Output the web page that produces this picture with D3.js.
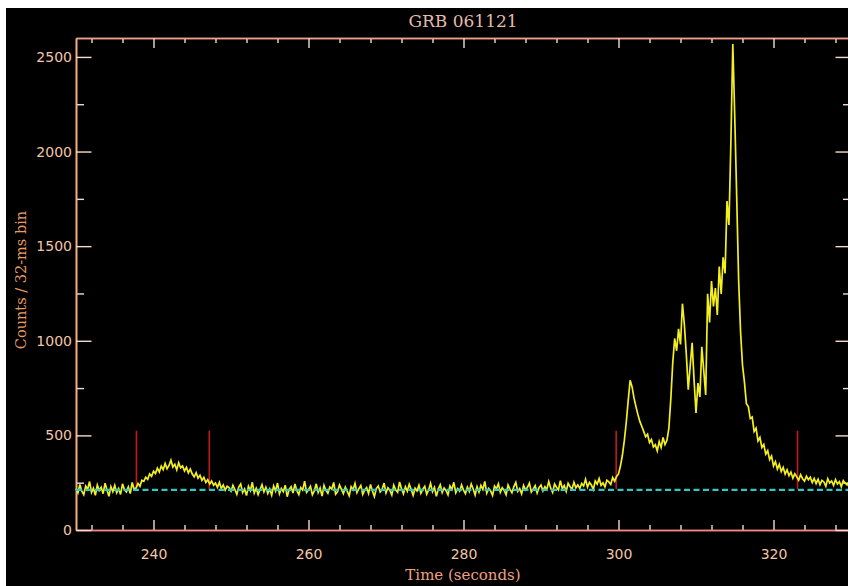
<!DOCTYPE html>
<html>
<head>
<meta charset="utf-8">
<script src="https://cdn.jsdelivr.net/npm/d3@7"></script>
<style>
  body { margin: 0; background: #ffffff; }
  svg { display: block; }
</style>
</head>
<body>
<svg id="chart" width="848" height="586"></svg>
<script>
// light curve, 0.25 s steps from 230 s (counts)
const binStart = 230, binWidth = 0.25;
const counts = [
  218, 196, 241, 205, 187, 232, 214, 256, 199, 221, 183, 238, 209, 226, 192, 247, 211, 178, 229, 203,
  236, 197, 219, 188, 244, 212, 201, 228, 193, 251, 215, 222, 246, 231, 263, 257, 279, 268, 296, 284,
  311, 298, 327, 306, 338, 319, 352, 324, 341, 369, 333, 347, 318, 356, 329, 338, 312, 331, 302, 322,
  296, 281, 303, 274, 289, 262, 278, 251, 266, 243, 259, 237, 248, 226, 252, 219, 238, 211, 231, 224,
  205, 236, 214, 189, 227, 243, 198, 217, 182, 231, 208, 252, 196, 221, 187, 214, 239, 201, 226, 193,
  217, 184, 233, 206, 248, 191, 219, 202, 237, 176, 214, 229, 195, 243, 208, 187, 224, 211, 258, 199,
  213, 231, 186, 207, 244, 198, 222, 179, 236, 209, 194, 227, 216, 251, 189, 203, 238, 215, 192, 226,
  204, 181, 229, 213, 246, 197, 218, 235, 188, 210, 224, 193, 241, 206, 177, 219, 232, 201, 215, 248,
  196, 223, 209, 185, 237, 212, 199, 254, 218, 191, 228, 205, 242, 214, 183, 221, 207, 236, 194, 216,
  231, 189, 212, 247, 203, 225, 178, 216, 239, 198, 222, 208, 186, 233, 214, 252, 197, 219, 205, 238,
  211, 192, 226, 204, 243, 217, 185, 229, 201, 236, 214, 257, 195, 220, 207, 183, 232, 218, 244, 199,
  223, 209, 186, 238, 215, 197, 229, 251, 204, 219, 191, 235, 212, 226, 248, 201, 217, 234, 196, 224,
  238, 207, 229, 214, 256, 221, 199, 243, 226, 212, 261, 218, 235, 204, 247, 229, 216, 252, 223, 238,
  219, 246, 233, 268, 227, 251, 238, 214, 259, 243, 272, 236, 249, 228, 263, 254, 241, 277, 258, 283,
  296, 338, 395, 472, 568, 684, 791, 756, 698, 652, 611, 574, 548, 521, 493, 506, 462, 478, 439, 451,
  418, 467, 436, 489, 452, 474, 538, 692, 884, 1012, 947, 1063, 981, 1196, 1084, 928, 742, 866, 989, 792,
  618, 776, 703, 968, 842, 714, 1248, 1097, 1315, 1182, 1278, 1136, 1392, 1247, 1441, 1356, 1738, 1612, 2047, 2568,
  2183, 1764, 1322, 1047, 872, 781, 668, 652, 589, 597, 521, 538, 471, 489, 436, 452, 401, 419, 372, 391,
  338, 361, 322, 347, 309, 331, 296, 318, 287, 306, 274, 297, 281, 263, 292, 271, 258, 284, 266, 279,
  251, 273, 246, 268, 239, 262, 254, 231, 271, 248, 259, 236, 266, 243, 255, 229, 261, 247, 238, 256,
  244
];
const background = 212;
const markerTimes = [237.8, 247.2, 299.7, 323.1];
const markerRange = [215, 525];
const xMajor = [240, 260, 280, 300, 320];
const xMinor = [232, 236, 244, 248, 252, 256, 264, 268, 272, 276, 284, 288, 292, 296, 304, 308, 312, 316, 324, 328];
const yMajor = [0, 500, 1000, 1500, 2000, 2500];
const yMinor = [250, 750, 1250, 1750, 2250];

const svg = d3.select("#chart");
svg.append("rect")
    .attr("x", 6).attr("y", 8)
    .attr("width", 842).attr("height", 578)
    .attr("fill", "#000");

const x = d3.scaleLinear().domain([230, 330]).range([76, 851]);
const y = d3.scaleLinear().domain([0, 2600]).range([530, 38]);

const axisColor = "#f0a088",
      tickColor = "#f6dccc",
      labelColor = "#f2c6a6";

function styleAxis(g, lineColor) {
    g.select(".domain").attr("stroke", lineColor).attr("stroke-width", 1.6);
    g.selectAll(".tick line").attr("stroke", tickColor).attr("stroke-width", 1.4);
    g.selectAll(".tick text")
        .attr("fill", labelColor)
        .style("font-family", "DejaVu Sans, sans-serif")
        .style("font-size", "14px");
}

// bottom axis
svg.append("g").attr("transform", "translate(0,530)")
    .call(d3.axisBottom(x).tickValues(xMinor).tickSize(-5).tickSizeOuter(0).tickFormat(""))
    .call(g => styleAxis(g, "#f08880"));
svg.append("g").attr("transform", "translate(0,530)")
    .call(d3.axisBottom(x).tickValues(xMajor).tickSize(-10).tickSizeOuter(0).tickPadding(19).tickFormat(d3.format("d")))
    .call(g => styleAxis(g, "#f08880"));
// top axis
svg.append("g").attr("transform", "translate(0,38)")
    .call(d3.axisTop(x).tickValues(xMinor).tickSize(-5).tickSizeOuter(0).tickFormat(""))
    .call(g => styleAxis(g, axisColor));
svg.append("g").attr("transform", "translate(0,38)")
    .call(d3.axisTop(x).tickValues(xMajor).tickSize(-10).tickSizeOuter(0).tickFormat(""))
    .call(g => styleAxis(g, axisColor));
// left axis
svg.append("g").attr("transform", "translate(76,0)")
    .call(d3.axisLeft(y).tickValues(yMinor).tickSize(-8).tickSizeOuter(0).tickFormat(""))
    .call(g => styleAxis(g, "#f0b080"));
svg.append("g").attr("transform", "translate(76,0)")
    .call(d3.axisLeft(y).tickValues(yMajor).tickSize(-15.5).tickSizeOuter(0).tickPadding(4).tickFormat(d3.format("d")))
    .call(g => styleAxis(g, "#f0b080"));
// right axis
svg.append("g").attr("transform", "translate(851,0)")
    .call(d3.axisRight(y).tickValues(yMinor).tickSize(-8).tickSizeOuter(0).tickFormat(""))
    .call(g => styleAxis(g, "#f0b080"));
svg.append("g").attr("transform", "translate(851,0)")
    .call(d3.axisRight(y).tickValues(yMajor).tickSize(-15.5).tickSizeOuter(0).tickFormat(""))
    .call(g => styleAxis(g, "#f0b080"));

// red interval markers
svg.selectAll("line.marker")
    .data(markerTimes)
    .join("line")
    .attr("class", "marker")
    .attr("x1", d => x(d)).attr("x2", d => x(d))
    .attr("y1", y(markerRange[0])).attr("y2", y(markerRange[1]))
    .attr("stroke", "#c41a1a")
    .attr("stroke-width", 1.6);

// light curve
const line = d3.line()
    .x((d, i) => x(binStart + i * binWidth))
    .y(d => y(d));
svg.append("path")
    .datum(counts)
    .attr("d", line)
    .attr("fill", "none")
    .attr("stroke", "#f4f020")
    .attr("stroke-width", 1.7)
    .attr("stroke-linejoin", "miter");

// background level
svg.append("line")
    .attr("x1", x(230)).attr("x2", x(330))
    .attr("y1", y(background)).attr("y2", y(background))
    .attr("stroke", "#30c8c0")
    .attr("stroke-width", 2.2)
    .attr("stroke-dasharray", "6,3.5");

// titles
svg.append("text")
    .attr("x", 463).attr("y", 27)
    .attr("text-anchor", "middle")
    .attr("fill", "#e4bcaa")
    .style("font-family", "DejaVu Serif, serif")
    .style("font-size", "17px")
    .text("GRB 061121");

svg.append("text")
    .attr("x", 463).attr("y", 580)
    .attr("text-anchor", "middle")
    .attr("fill", "#f0a080")
    .style("font-family", "DejaVu Serif, serif")
    .style("font-size", "15px")
    .text("Time (seconds)");

svg.append("text")
    .attr("transform", "translate(26,280) rotate(-90)")
    .attr("text-anchor", "middle")
    .attr("fill", "#e89c60")
    .style("font-family", "DejaVu Serif, serif")
    .style("font-size", "14.5px")
    .text("Counts / 32-ms bin");
</script>
</body>
</html>
